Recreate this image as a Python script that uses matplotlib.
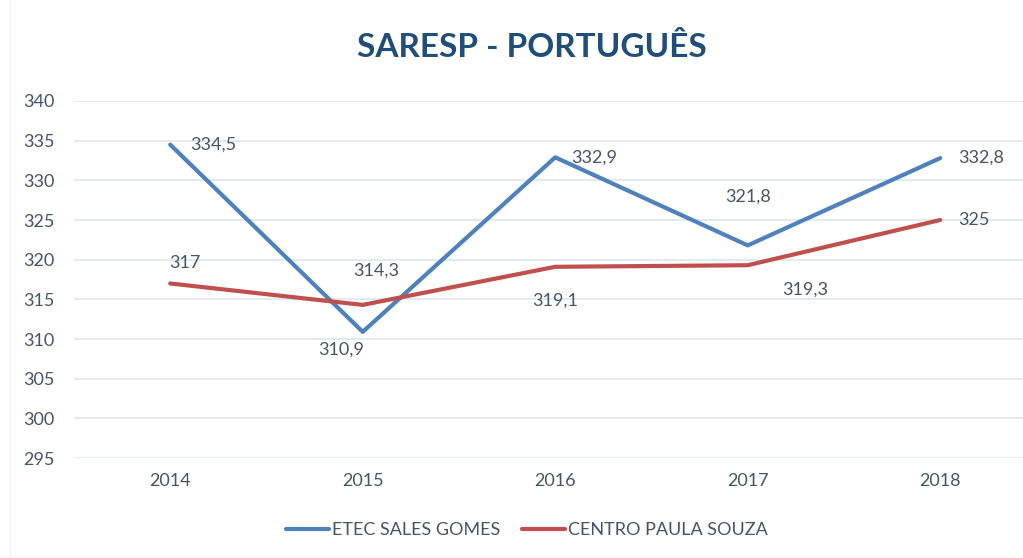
import matplotlib.pyplot as plt

anos = ["2014", "2015", "2016", "2017", "2018"]
etec = [334.5, 310.9, 332.9, 321.8, 332.8]
cps = [317, 314.3, 319.1, 319.3, 325]
yticks = [295, 300, 305, 310, 315, 320, 325, 330, 335, 340]

azul = "#4F81BD"
verm = "#C0504D"
texto = "#44546A"

plt.rcParams['font.family'] = ['Lato', 'DejaVu Sans']

fig = plt.figure(figsize=(10.23, 5.58), dpi=100)
ax = fig.add_axes([0.0723, 0.1792, 0.9277, 0.6398])

x = list(range(len(anos)))
ax.plot(x, etec, color=azul, linewidth=3, label="ETEC SALES GOMES", solid_capstyle="round")
ax.plot(x, cps, color=verm, linewidth=3, label="CENTRO PAULA SOUZA", solid_capstyle="round")

def rotulo(v):
    return ("%g" % v).replace(".", ",")

# offsets em pixels (dx, dy, ha)
off_etec = [(20, 0, "left"), (-22, -18, "center"), (16, 0, "left"), (0, 49, "center"), (18, 0, "left")]
off_cps = [(15, 20, "center"), (13, 34, "center"), (0, -34, "center"), (57, -24, "center"), (18, 0, "left")]

for i, v in enumerate(etec):
    dx, dy, ha = off_etec[i]
    ax.annotate(rotulo(v), (i, v), xytext=(dx, dy), textcoords="offset pixels",
                ha=ha, va="center", fontsize=13, color=texto)
for i, v in enumerate(cps):
    dx, dy, ha = off_cps[i]
    ax.annotate(rotulo(v), (i, v), xytext=(dx, dy), textcoords="offset pixels",
                ha=ha, va="center", fontsize=13, color=texto)

ax.set_xlim(-0.5, 4.43)
ax.set_ylim(295, 340)
ax.set_yticks(yticks)
ax.set_xticks(x)
ax.set_xticklabels(anos)
ax.tick_params(axis="both", length=0, labelsize=13, labelcolor=texto)
ax.tick_params(axis="x", pad=11)
ax.tick_params(axis="y", pad=14)
for s in ax.spines.values():
    s.set_visible(False)
ax.grid(axis="y", color="#DCE6F2", linewidth=1.2)
ax.set_axisbelow(True)

# borda fraca da area do grafico a esquerda
fig.add_artist(plt.Line2D([0.01, 0.01], [0.0, 1.0], color="#EEF2F8", linewidth=1))

fig.text(0.52, 0.915, "SARESP - PORTUGUÊS", ha="center", va="center",
         fontsize=24, fontweight="bold", color="#1F4E79")

fig.legend(loc="center", bbox_to_anchor=(0.515, 0.05), ncol=2, frameon=False,
           fontsize=13, labelcolor=texto, handlelength=2.4, columnspacing=1.2,
           handletextpad=0.15)

fig.savefig("out.png", dpi=100)
